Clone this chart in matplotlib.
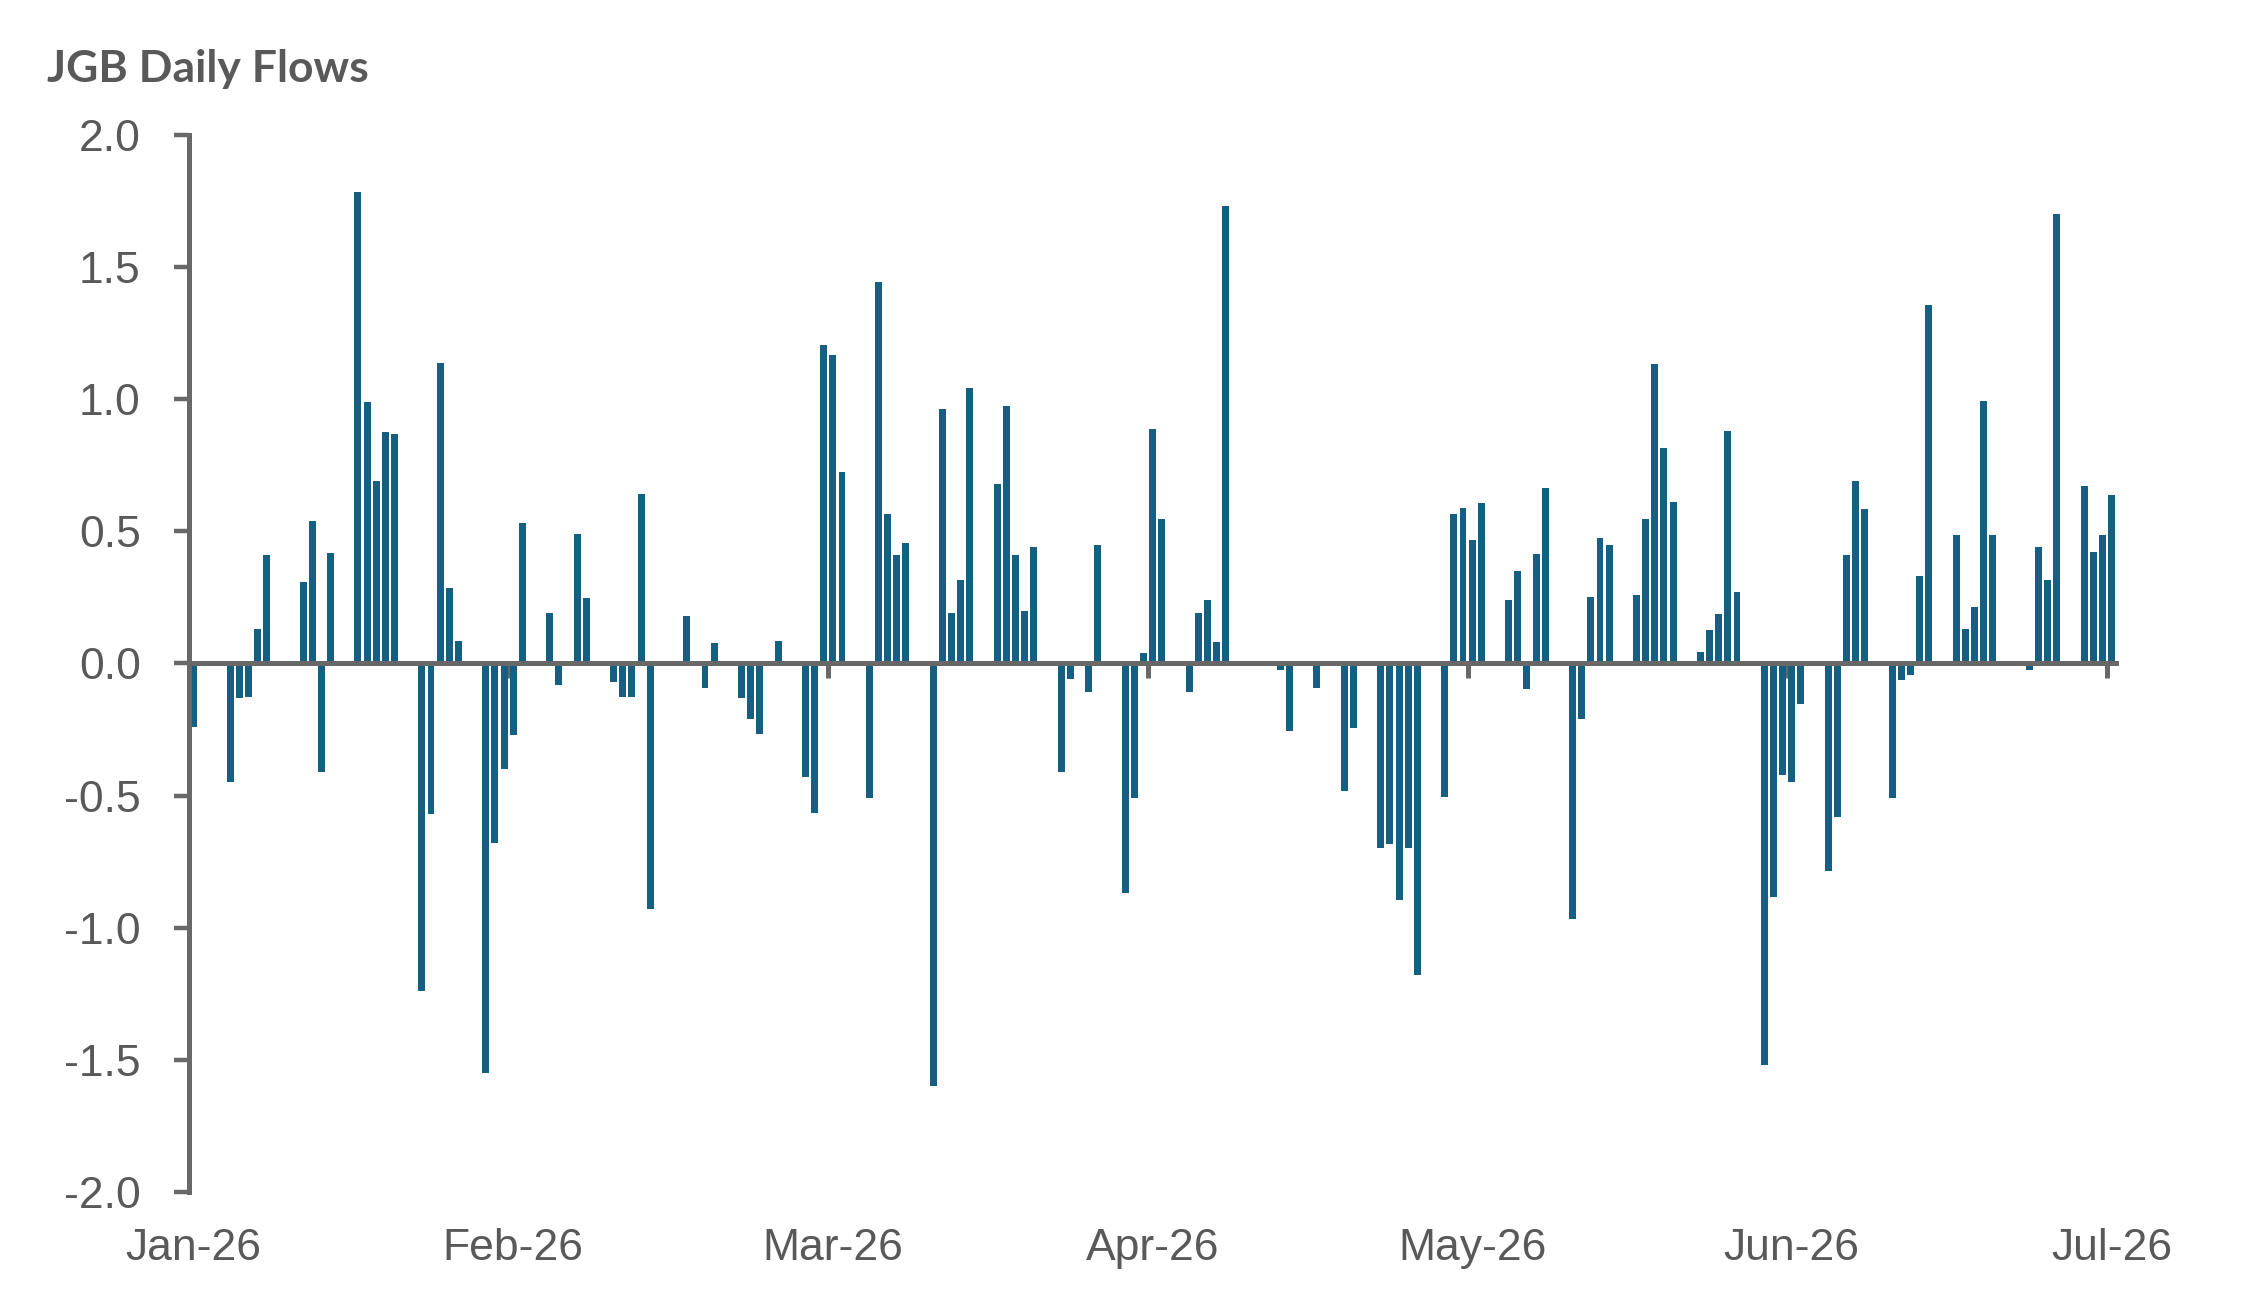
import pandas as pd
import numpy as np
import matplotlib
matplotlib.use('Agg')
import matplotlib.pyplot as plt
import matplotlib.dates as mdates
from matplotlib.ticker import FuncFormatter

# JGB daily flows 2026, one list per month (day of month / value)
jan_days = [1, 5, 6, 7, 8, 9, 13, 14, 15, 16, 19, 20, 21, 22, 23, 26, 27, 28, 29, 30]
jan_vals = [-0.24, -0.45, -0.13, -0.125, 0.13, 0.41, 0.31, 0.54, -0.41, 0.42,
            1.785, 0.99, 0.69, 0.875, 0.87, -1.24, -0.57, 1.136, 0.284, 0.087]
feb_days = [2, 3, 4, 5, 6, 9, 10, 12, 13, 16, 17, 18, 19, 20, 24, 26, 27]
feb_vals = [-1.55, -0.68, -0.40, -0.27, 0.53, 0.19, -0.08, 0.49, 0.246, -0.07,
            -0.125, -0.125, 0.64, -0.93, 0.18, -0.093, 0.077]
mar_days = [2, 3, 4, 6, 9, 10, 11, 12, 13, 16, 17, 18, 19, 20, 23, 24, 25, 26, 27, 30, 31]
mar_vals = [-0.13, -0.21, -0.266, 0.085, -0.43, -0.566, 1.205, 1.168, 0.723, -0.508,
            1.444, 0.566, 0.41, 0.455, -1.60, 0.963, 0.19, 0.316, 1.043, 0.68, 0.976]
apr_days = [1, 2, 3, 6, 7, 8, 9, 10, 13, 14, 15, 16, 17, 20, 21, 22, 23, 24, 30]
apr_vals = [0.41, 0.20, 0.44, -0.41, -0.058, -0.01, -0.106, 0.45, -0.87, -0.51,
            0.04, 0.886, 0.545, -0.106, 0.19, 0.24, 0.082, 1.73, -0.024]
may_days = [1, 4, 7, 8, 11, 12, 13, 14, 15, 18, 19, 20, 21, 22, 25, 26, 27, 28, 29]
may_vals = [-0.255, -0.093, -0.484, -0.245, -0.70, -0.683, -0.894, -0.70, -1.18, -0.505,
            0.566, 0.59, 0.468, 0.606, 0.242, 0.351, -0.098, 0.415, 0.665]
jun_days = [1, 2, 3, 4, 5, 8, 9, 10, 11, 12, 15, 16, 17, 18, 19, 22, 23, 24, 25, 26, 29, 30]
jun_vals = [-0.965, -0.21, 0.25, 0.476, 0.447, 0.26, 0.548, 1.133, 0.816, 0.612, 0.045,
            0.128, 0.189, 0.878, 0.271, -1.52, -0.883, -0.423, -0.447, -0.154, -0.787, -0.58]
jul_days = [1, 2, 3, 6, 7, 8, 9, 10, 13, 14, 15, 16, 17, 21, 22, 23, 24, 27, 28, 29, 30]
jul_vals = [0.412, 0.69, 0.585, -0.508, -0.064, -0.045, 0.332, 1.356, 0.487, 0.13, 0.215,
            0.992, 0.487, -0.024, 0.439, 0.316, 1.70, 0.67, 0.423, 0.487, 0.638]

# x labels every 35 days, like the excel date axis
label_dates = ['2026-01-01', '2026-02-05', '2026-03-12', '2026-04-16',
               '2026-05-21', '2026-06-25', '2026-07-30']
y_ticks = [-2.0, -1.5, -1.0, -0.5, 0.0, 0.5, 1.0, 1.5, 2.0]

months = [(1, jan_days, jan_vals), (2, feb_days, feb_vals), (3, mar_days, mar_vals),
          (4, apr_days, apr_vals), (5, may_days, may_vals), (6, jun_days, jun_vals),
          (7, jul_days, jul_vals)]
rows = []
for m, days, vals in months:
    for d, v in zip(days, vals):
        rows.append((pd.Timestamp(2026, m, d), v))
df = pd.DataFrame(rows, columns=['date', 'flow'])

TXT = '#595959'
LN = '#686868'
BAR = '#156082'
plt.rcParams['font.family'] = ['Liberation Sans', 'DejaVu Sans']

W, H = 2249, 1314
fig = plt.figure(figsize=(W / 200, H / 200), dpi=200)
left, right = 189 / W, 2116 / W
top, bottom = 1 - 135 / H, 1 - 1192 / H
ax = fig.add_axes([left, bottom, right - left, top - bottom])

x = mdates.date2num(df['date'])
ax.bar(x, df['flow'], width=0.76, color=BAR, zorder=2)

lab_x = mdates.date2num(pd.to_datetime(label_dates))
ax.set_xlim(lab_x[0] - 0.5, lab_x[-1] + 0.5)
ax.set_ylim(-2, 2)

# y axis
ax.set_yticks(y_ticks)
ax.yaxis.set_major_formatter(FuncFormatter(lambda v, p: f'{v:.1f}'))
ax.tick_params(axis='y', direction='out', length=5.4, width=1.6, color=LN,
               pad=12, labelsize=16, labelcolor=TXT)

for s in ['top', 'right']:
    ax.spines[s].set_visible(False)
ax.spines['left'].set_color(LN)
ax.spines['left'].set_linewidth(1.8)
ax.spines['bottom'].set_position(('data', 0))
ax.spines['bottom'].set_color(LN)
ax.spines['bottom'].set_linewidth(1.8)
ax.spines['left'].set_zorder(3)
ax.spines['bottom'].set_zorder(3)

# tick marks on the zero line at the left edge of each labelled day
ax.set_xticks(lab_x - 0.5)
ax.tick_params(axis='x', direction='out', length=5.4, width=1.8, color=LN,
               labelbottom=False)

# month labels along the bottom of the plot
sec = ax.secondary_xaxis(0.0)
sec.set_xticks(lab_x)
sec.xaxis.set_major_formatter(mdates.DateFormatter('%b-%y'))
sec.spines['bottom'].set_visible(False)
sec.tick_params(axis='x', length=0, pad=13, labelsize=16, labelcolor=TXT)

fig.text(47 / W, 1 - 82 / H, 'JGB Daily Flows', fontsize=16, fontweight='bold',
         family=['Lato', 'DejaVu Sans'], color=TXT, va='baseline', ha='left')

fig.savefig('out.png', dpi=200)
